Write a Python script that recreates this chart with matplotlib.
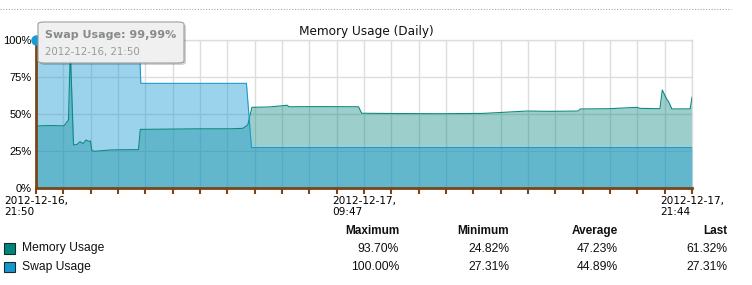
#!/usr/bin/env python3
"""Memory / swap usage over one day, area chart with a stats table below."""
from datetime import datetime, timedelta

import matplotlib.pyplot as plt
from matplotlib.patches import FancyBboxPatch, Rectangle
from matplotlib.lines import Line2D


START = datetime(2012, 12, 16, 21, 50)
SPAN_MIN = 1434  # 21:50 -> 21:44 next day

# minutes after START, percent
MEM_T = [0, 31, 61, 65, 71, 75, 82, 90, 96, 103, 109, 116, 119, 122, 129, 162,
         195, 224, 228, 293, 358, 424, 452, 463, 472, 512, 549, 553, 621, 705,
         712, 796, 883, 977, 1014, 1073, 1124, 1185, 1190, 1255, 1314, 1320,
         1364, 1369, 1379, 1382, 1390, 1430, 1434]
MEM_V = [41.9, 42.2, 42.0, 43.5, 46.0, 93.7, 29.0, 29.5, 31.3, 30.0, 32.4, 31.5,
         31.8, 25.2, 24.8, 25.7, 25.9, 25.9, 39.6, 39.8, 40.0, 40.0, 40.3, 42.6,
         54.5, 54.8, 55.9, 54.9, 55.0, 54.9, 50.5, 50.3, 50.2, 50.4, 51.0, 52.0,
         51.8, 52.0, 53.4, 53.6, 54.5, 53.8, 53.6, 66.2, 59.9, 58.8, 53.4, 53.5,
         61.32]

SWAP_T = [0, 226, 229, 460, 471, 1434]
SWAP_V = [99.99, 99.99, 70.7, 70.7, 27.31, 27.31]

SERIES = ["Memory Usage", "Swap Usage"]
COLUMNS = ["Maximum", "Minimum", "Average", "Last"]
MEM_STATS = ["93.70%", "24.82%", "47.23%", "61.32%"]
SWAP_STATS = ["100.00%", "27.31%", "44.89%", "27.31%"]

Y_TICKS = [0, 25, 50, 75, 100]
N_STEPS = 24
LABEL_STEPS = [0, 12, 24]

MEM_COLOR = "#00857a"
SWAP_COLOR = "#1596d2"
BROWN = "#7a4518"
GRID = "#dddddd"

W, H = 752, 285


def fx(px):
    return px / W


def fy(py):
    return 1 - py / H


def main():
    fig = plt.figure(figsize=(W / 100, H / 100), dpi=100)
    ax = fig.add_axes([fx(36), fy(188), 656 / W, 148 / H])

    ax.fill_between(MEM_T, 0, MEM_V, color=MEM_COLOR, alpha=0.39, lw=0, zorder=2)
    ax.fill_between(SWAP_T, 0, SWAP_V, color=SWAP_COLOR, alpha=0.42, lw=0, zorder=3)
    ax.plot(MEM_T, MEM_V, color="#0e8a80", lw=0.8, zorder=4)
    ax.plot(SWAP_T, SWAP_V, color="#1a9ad0", lw=0.8, zorder=5)

    ax.set_xlim(0, SPAN_MIN)
    ax.set_ylim(0, 100)

    ticks = [SPAN_MIN * i / N_STEPS for i in range(N_STEPS + 1)]
    labels = []
    for i, t in enumerate(ticks):
        if i in LABEL_STEPS:
            d = START + timedelta(minutes=t)
            labels.append(d.strftime("%Y-%m-%d,\n%H:%M"))
        else:
            labels.append("")
    ax.set_xticks(ticks)
    ax.set_xticklabels(labels, fontsize=7.6, family="DejaVu Sans",
                       linespacing=1.05)
    for lab in ax.get_xticklabels():
        lab.set_multialignment("left")
    ax.tick_params(axis="x", length=4, width=1.5, color=BROWN, pad=2)

    ax.set_yticks(Y_TICKS)
    ax.set_yticklabels([f"{v}%" for v in Y_TICKS], fontsize=8,
                       family="Liberation Sans")
    ax.tick_params(axis="y", length=0, pad=3)

    ax.grid(True, color=GRID, lw=1.0, zorder=0)
    ax.set_axisbelow(True)
    for side in ("top", "right"):
        ax.spines[side].set_color(GRID)
        ax.spines[side].set_linewidth(1.0)
    ax.spines["left"].set_color(BROWN)
    ax.spines["left"].set_linewidth(2)
    ax.spines["bottom"].set_color(BROWN)
    ax.spines["bottom"].set_linewidth(2)
    ax.spines["left"].set_zorder(6)
    ax.spines["bottom"].set_zorder(6)

    # hovered point
    ax.plot([SWAP_T[0]], [100], "o", ms=6.5, color="#1a9ad6", clip_on=False,
            zorder=7)

    fig.text(fx(366), fy(31), "Memory Usage (Daily)", ha="center", va="center",
             fontsize=8.7, family="DejaVu Sans", color="#111")

    # dotted separator at the very top
    fig.add_artist(Line2D([0, fx(731)], [fy(9), fy(9)], transform=fig.transFigure,
                          color="#aaaaaa", lw=0.8, ls=(0, (1, 1.5))))

    # tooltip
    x0, y0, x1, y1 = 38, 22, 184, 63
    shadow = FancyBboxPatch((fx(x0 + 2), fy(y1 + 2)), fx(x1 - x0), (y1 - y0) / H,
                            boxstyle="round,pad=0,rounding_size=0.008",
                            transform=fig.transFigure, facecolor="#000000",
                            edgecolor="none", alpha=0.18, zorder=20)
    box = FancyBboxPatch((fx(x0), fy(y1)), fx(x1 - x0), (y1 - y0) / H,
                         boxstyle="round,pad=0,rounding_size=0.008",
                         transform=fig.transFigure, facecolor="#f2f2f2",
                         edgecolor="#9a9a9a", lw=0.8, alpha=0.97, zorder=21)
    fig.add_artist(shadow)
    fig.add_artist(box)
    fig.text(fx(45), fy(35), "Swap Usage: 99,99%", ha="left", va="center",
             fontsize=8, fontweight="bold", family="DejaVu Sans",
             color="#8a8a8a", zorder=22)
    fig.text(fx(45), fy(51.5), "2012-12-16, 21:50", ha="left", va="center",
             fontsize=7.4, family="DejaVu Sans", color="#9a9a9a", zorder=22)

    # stats table
    col_right = [399, 509, 618, 727]
    for x, name in zip(col_right, COLUMNS):
        fig.text(fx(x), fy(231), name, ha="right", va="center", fontsize=8.5,
                 fontweight="bold", family="Liberation Sans", color="#111")
    rows = [(SERIES[0], MEM_COLOR, MEM_STATS, 248.5),
            (SERIES[1], SWAP_COLOR, SWAP_STATS, 267)]
    for name, color, stats, y in rows:
        fig.add_artist(Rectangle((fx(4), fy(y + 5.3)), 11 / W, 10.6 / H,
                                 transform=fig.transFigure, facecolor=color,
                                 edgecolor="#1a2a2a", lw=0.8))
        fig.text(fx(21.5), fy(y), name, ha="left", va="center", fontsize=8.7,
                 family="Liberation Sans", color="#111")
        for x, s in zip(col_right, stats):
            fig.text(fx(x), fy(y), s, ha="right", va="center", fontsize=8.7,
                     family="Liberation Sans", color="#111")

    fig.savefig("out.png", dpi=100)


if __name__ == "__main__":
    main()
